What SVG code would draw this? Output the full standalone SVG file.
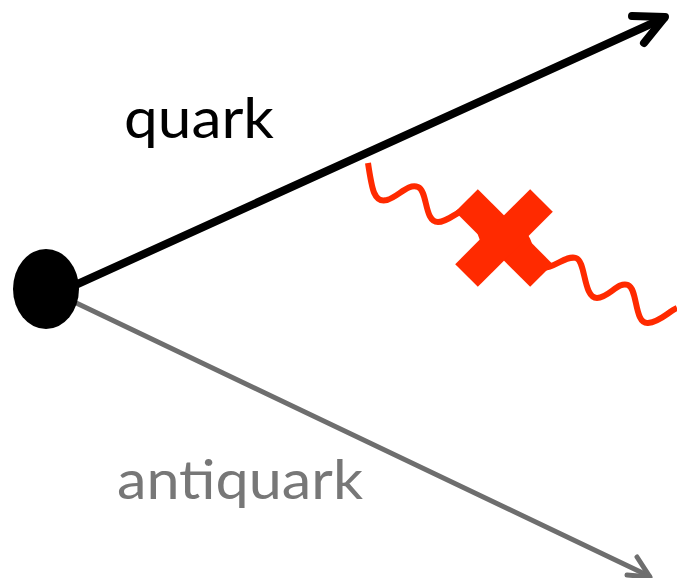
<svg xmlns="http://www.w3.org/2000/svg" width="677" height="578" viewBox="0 0 677 578">
<style>
.lbl{font-family:Lato,"Open Sans","Liberation Sans",sans-serif;}
.q{stroke:#000;stroke-width:8;fill:none;stroke-linecap:round;stroke-linejoin:round;}
.aq{stroke:#6e6e6e;stroke-width:5;fill:none;stroke-linecap:round;stroke-linejoin:round;}
.wave{stroke:#ff2a00;stroke-width:6;fill:none;stroke-linecap:butt;}
</style>
<g id="connectors">
<g id="quark-line">
<line class="q" x1="60" y1="292" x2="664" y2="18"/>
<polyline class="q" points="632,16 665,17 644,43"/>
</g>
<g id="antiquark-line">
<line class="aq" x1="70" y1="300" x2="649" y2="576"/>
<polyline class="aq" points="637,557 650,577 627,575"/>
</g>
<path id="photon" class="wave" d="M368,163 C372,190 374,203 387,200 C398,197 408,183 418,187 C428,191 424,222 438,222 C450,222 460,207 470,210 C480,213 478,245 490,245 C502,245 512,231 522,234 C532,237 530,268 543,268 C555,268 566,255 576,258 C586,261 583,298 597,298 C609,298 618,281 628,285 C638,289 634,324 648,323 C660,322 668,312 677,308"/>
</g>
<g id="vertex">
<ellipse cx="46" cy="289" rx="33" ry="40" fill="#000"/>
</g>
<g id="cross" transform="translate(504,238) rotate(45)">
<rect x="-53" y="-16" width="106" height="32" fill="#ff2a00"/>
<rect x="-16" y="-53" width="32" height="106" fill="#ff2a00"/>
</g>
<g id="label-quark">
<text class="lbl" x="124" y="138" font-size="56" fill="#000" textLength="150" lengthAdjust="spacingAndGlyphs">quark</text>
</g>
<g id="label-antiquark">
<text class="lbl" x="117" y="499" font-size="54" fill="#777" textLength="246" lengthAdjust="spacingAndGlyphs">antiquark</text>
</g>
</svg>
